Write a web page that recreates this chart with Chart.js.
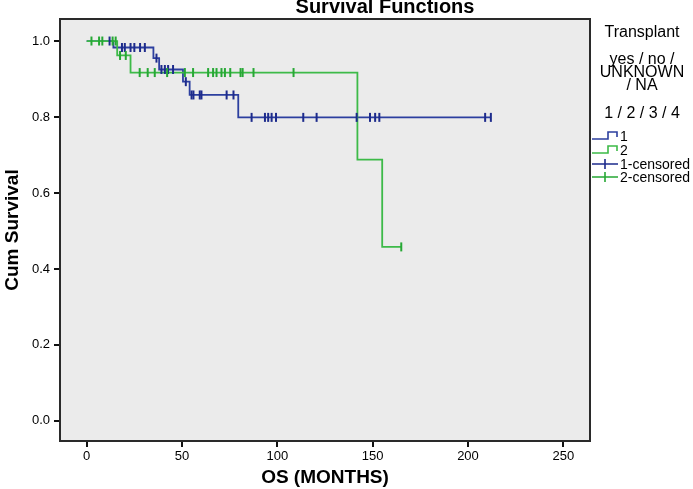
<!DOCTYPE html>
<html><head><meta charset="utf-8">
<script src="https://cdn.jsdelivr.net/npm/chart.js@4.4.1/dist/chart.umd.min.js"></script>
<style>html,body{margin:0;padding:0;background:#fff;} canvas{display:block;}</style>
</head><body>
<canvas id="c" width="693" height="489"></canvas>
<script>
const chartTitle = 'Survival Functions';
const xAxisTitle = 'OS (MONTHS)';
const yAxisTitle = 'Cum Survival';
const xTickValues = [0, 50, 100, 150, 200, 250];
const yTickValues = [0.0, 0.2, 0.4, 0.6, 0.8, 1.0];
const legendHeader = 'Transplant';
const legendSubheader = ['yes / no /', 'UNKNOWN', '/ NA'];
const legendCodes = '1 / 2 / 3 / 4';
const seriesNames = ['1', '2', '1-censored', '2-censored'];

// Group 1 (blue): step times and survival after each step
const blueTimes = [0, 14, 35, 38, 50.5, 54, 79.5, 212];
const blueSurv  = [1.0, 0.983, 0.955, 0.925, 0.893, 0.858, 0.799, 0.799];
const blueCensored = [12, 18.5, 20, 23, 25, 28, 30.5, 36.6, 39.2, 41, 42.7, 45.3, 52, 55, 56, 59.3, 60.2, 73.4, 77,
  86.5, 93.5, 95.2, 97, 99.3, 113.6, 120.6, 141.6, 148.6, 151.3, 153.5, 209, 212];

// Group 2 (green)
const greenTimes = [0, 16, 23, 142, 155, 165];
const greenSurv  = [1.0, 0.962, 0.917, 0.688, 0.458, 0.458];
const greenCensored = [2.5, 6.5, 8.2, 13.6, 15.2, 17.5, 20.5, 27.8, 32, 35.7, 42.2, 51.5, 55.8, 63.7, 66.3, 68.1,
  70.7, 72.5, 75.3, 80.7, 81.8, 87.5, 108.5, 165];

const blueLine = '#2c3f9f', blueMark = '#1d2b8c';
const greenLine = '#3dba48', greenMark = '#26a834';

function stepPoints(times, surv) { return times.map((t, i) => ({x: t, y: surv[i]})); }
function levelAt(times, surv, t) {
  let v = surv[0];
  for (let i = 0; i < times.length; i++) { if (times[i] <= t) v = surv[i]; }
  return v;
}
function censorPoints(times, surv, cens) { return cens.map(t => ({x: t, y: levelAt(times, surv, t)})); }

const plotBox = {
  id: 'plotBox',
  beforeDatasetsDraw(chart) {
    const {ctx, chartArea: a} = chart;
    ctx.save();
    ctx.fillStyle = '#ebebeb';
    ctx.fillRect(a.left, a.top, a.right - a.left, a.bottom - a.top);
    ctx.restore();
  },
  afterDatasetsDraw(chart) {
    const {ctx, chartArea: a} = chart;
    ctx.save();
    ctx.strokeStyle = '#2a2a2a';
    ctx.lineWidth = 2;
    ctx.strokeRect(a.left, a.top, a.right - a.left, a.bottom - a.top);
    ctx.restore();
  },
  afterDraw(chart) {
    const ctx = chart.ctx;
    ctx.save();
    ctx.fillStyle = '#000';
    ctx.font = 'bold 20px "Liberation Sans", Arial, sans-serif';
    ctx.textAlign = 'center';
    ctx.textBaseline = 'alphabetic';
    ctx.fillText(chartTitle, 385, 13);

    // legend
    const cx = 642;
    ctx.font = '16px "Liberation Sans", Arial, sans-serif';
    ctx.textBaseline = 'middle';
    ctx.fillText(legendHeader, cx, 33);
    const subY = [60, 73, 86];
    legendSubheader.forEach((s, i) => ctx.fillText(s, cx, subY[i]));
    ctx.fillText(legendCodes, cx, 114);

    const rowY = [136, 150, 164, 177];
    const cols = [blueLine, greenLine, blueMark, greenMark];
    ctx.font = '14px "Liberation Sans", Arial, sans-serif';
    ctx.textAlign = 'left';
    seriesNames.forEach((name, i) => {
      const y = rowY[i];
      ctx.strokeStyle = cols[i];
      ctx.lineWidth = 1.6;
      ctx.beginPath();
      if (i < 2) {
        ctx.moveTo(592, y + 3); ctx.lineTo(608, y + 3); ctx.lineTo(608, y - 4);
        ctx.lineTo(617, y - 4); ctx.lineTo(617, y + 1);
      } else {
        ctx.moveTo(592, y); ctx.lineTo(618, y);
        ctx.moveTo(605, y - 5); ctx.lineTo(605, y + 5);
      }
      ctx.stroke();
      ctx.fillStyle = '#000';
      ctx.fillText(name, 620, y + 1);
    });
    ctx.restore();
  }
};

new Chart(document.getElementById('c'), {
  type: 'line',
  data: {
    datasets: [
      {label: seriesNames[0], data: stepPoints(blueTimes, blueSurv), stepped: true, borderColor: blueLine,
       borderWidth: 1.8, pointRadius: 0, fill: false, order: 4},
      {label: seriesNames[1], data: stepPoints(greenTimes, greenSurv), stepped: true, borderColor: greenLine,
       borderWidth: 1.8, pointRadius: 0, fill: false, order: 3},
      {label: seriesNames[2], data: censorPoints(blueTimes, blueSurv, blueCensored), showLine: false,
       pointStyle: 'line', rotation: 90, pointRadius: 4.5, borderColor: blueMark, borderWidth: 2, order: 2},
      {label: seriesNames[3], data: censorPoints(greenTimes, greenSurv, greenCensored), showLine: false,
       pointStyle: 'line', rotation: 90, pointRadius: 4.5, borderColor: greenMark, borderWidth: 2, order: 1}
    ]
  },
  options: {
    responsive: false,
    animation: false,
    devicePixelRatio: 1,
    layout: {padding: {top: 19, right: 103, left: 0, bottom: 0}},
    plugins: {legend: {display: false}, tooltip: {enabled: false}, title: {display: false}},
    scales: {
      x: {
        type: 'linear', min: -14, max: 264,
        afterBuildTicks: s => { s.ticks = xTickValues.map(v => ({value: v})); },
        afterFit: s => { s.height = 48; },
        ticks: {color: '#000', font: {size: 13, family: '"Liberation Sans", Arial, sans-serif'}, padding: 2,
                maxRotation: 0, autoSkip: false, callback: v => String(v)},
        grid: {display: true, drawOnChartArea: false, drawTicks: true, tickLength: 6, color: '#111', lineWidth: 2},
        border: {display: false},
        title: {display: true, text: xAxisTitle, color: '#000', padding: {top: 0, bottom: 0},
                font: {size: 19, weight: 'bold', family: '"Liberation Sans", Arial, sans-serif'}}
      },
      y: {
        type: 'linear', min: -0.053, max: 1.058,
        afterBuildTicks: s => { s.ticks = yTickValues.map(v => ({value: v})); },
        afterFit: s => { s.width = 60; },
        ticks: {color: '#000', font: {size: 13, family: '"Liberation Sans", Arial, sans-serif'}, padding: 4,
                autoSkip: false, callback: v => Number(v).toFixed(1)},
        grid: {display: true, drawOnChartArea: false, drawTicks: true, tickLength: 6, color: '#111', lineWidth: 2},
        border: {display: false},
        title: {display: true, text: yAxisTitle, color: '#000', padding: {top: 1, bottom: 0},
                font: {size: 19, weight: 'bold', family: '"Liberation Sans", Arial, sans-serif'}}
      }
    }
  },
  plugins: [plotBox]
});
</script>
</body></html>
